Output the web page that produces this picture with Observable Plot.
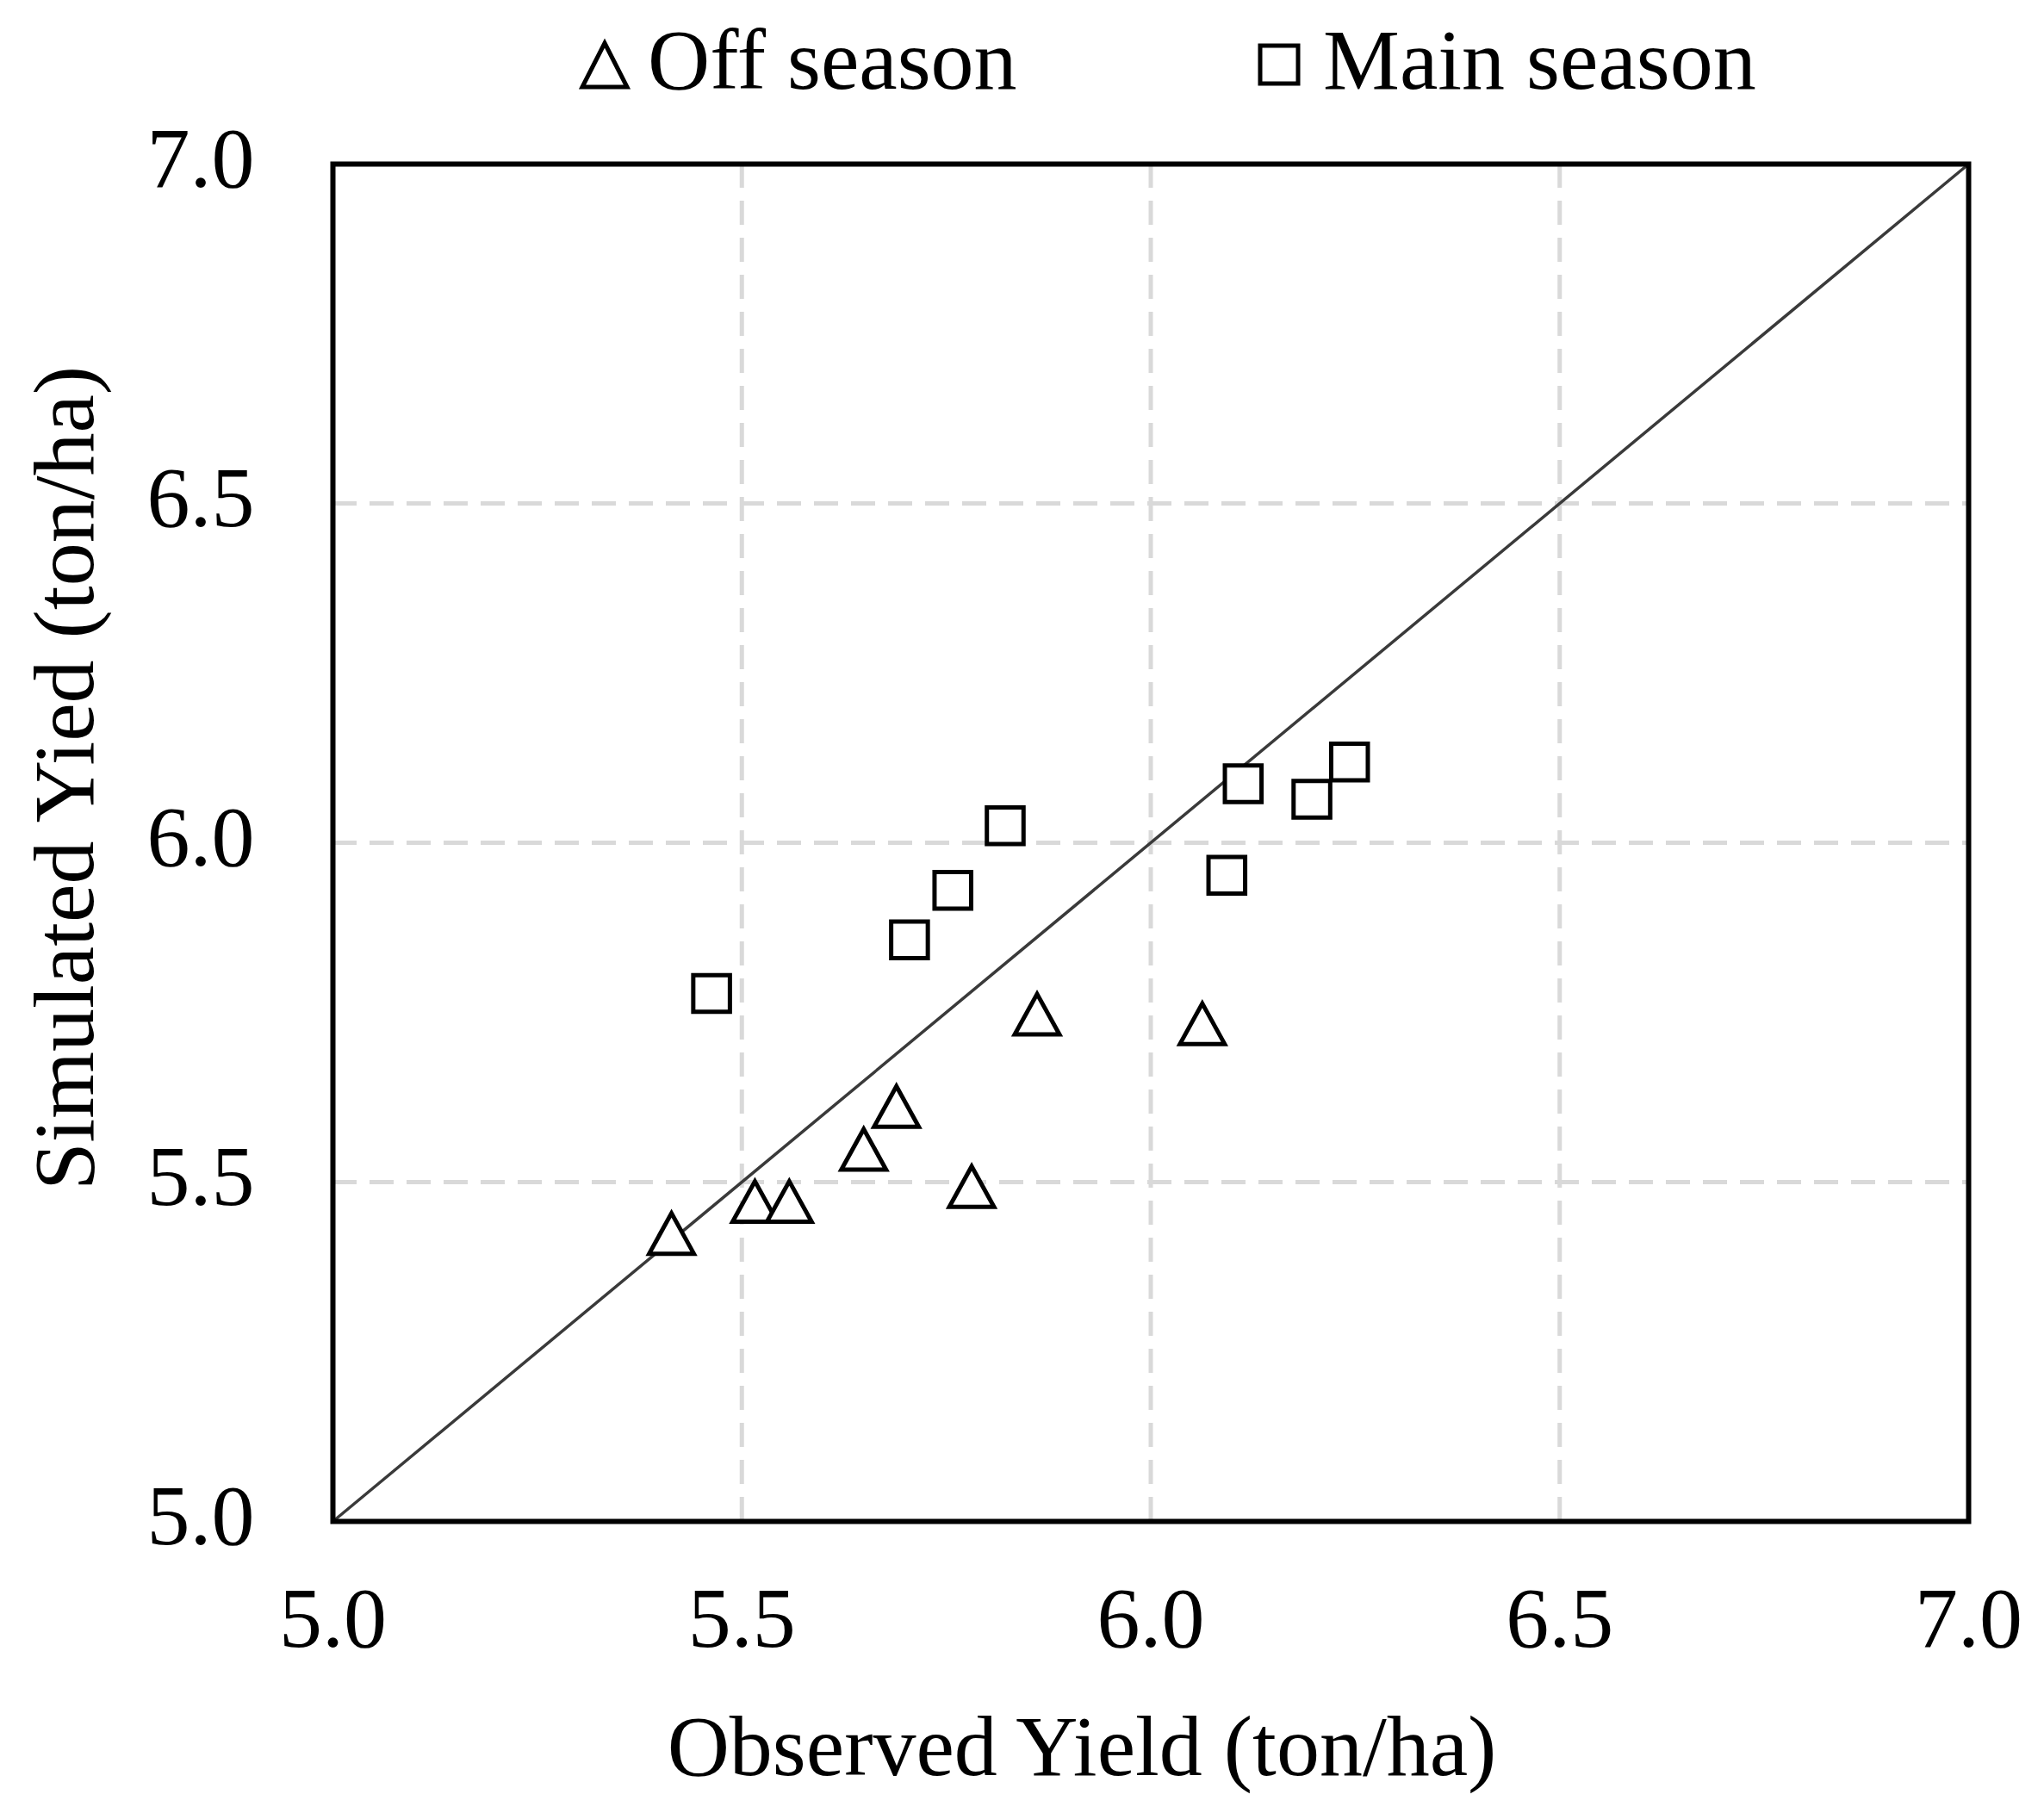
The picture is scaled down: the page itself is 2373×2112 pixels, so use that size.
<!DOCTYPE html>
<html>
<head>
<meta charset="utf-8">
<script src="https://cdn.jsdelivr.net/npm/d3@7"></script>
<script src="https://cdn.jsdelivr.net/npm/@observablehq/plot@0.6"></script>
<style>
  html, body { margin: 0; padding: 0; background: #fff; }
  #wrap { width: 2373px; font-family: "Liberation Serif", "Times New Roman", serif; }
  #legend { display: block; }
</style>
</head>
<body>
<div id="wrap"></div>
<script>
// ---- data ----
const seriesNames = ["Off season", "Main season"];
const offObserved  = [5.414, 5.516, 5.558, 5.649, 5.689, 5.781, 5.861, 6.063];
const offSimulated = [5.425, 5.472, 5.472, 5.549, 5.612, 5.494, 5.748, 5.734];
const mainObserved  = [5.463, 5.705, 5.758, 5.822, 6.093, 6.113, 6.197, 6.243];
const mainSimulated = [5.778, 5.857, 5.930, 6.025, 5.952, 6.087, 6.064, 6.119];
const axisTicks = [5.0, 5.5, 6.0, 6.5, 7.0];
const gridTicks = [5.5, 6.0, 6.5];
const oneToOne = [5.0, 7.0];
const xTitle = "Observed Yield (ton/ha)";
const yTitle = "Simulated Yied (ton/ha)";

const offData = offObserved.map((x, i) => ({x, y: offSimulated[i]}));
const mainData = mainObserved.map((x, i) => ({x, y: mainSimulated[i]}));

// custom triangle symbol (slightly tall, like the reference)
const triSym = {
  draw(context, size) {
    const s = Math.sqrt(size);
    context.moveTo(0, -0.54 * s);
    context.lineTo(0.61 * s, 0.565 * s);
    context.lineTo(-0.61 * s, 0.565 * s);
    context.closePath();
  }
};

const wrap = document.getElementById("wrap");

// ---- legend (above the chart) ----
const ns = "http://www.w3.org/2000/svg";
const leg = document.createElementNS(ns, "svg");
leg.setAttribute("id", "legend");
leg.setAttribute("width", 2373);
leg.setAttribute("height", 125);
leg.innerHTML = `
  <path d="M702,50 L728,101 L676,101 Z" fill="white" stroke="black" stroke-width="5" stroke-linejoin="miter"/>
  <text x="752" y="103" font-family="Liberation Serif" font-size="100" fill="black">${seriesNames[0]}</text>
  <rect x="1463" y="53" width="44" height="44" fill="white" stroke="black" stroke-width="5"/>
  <text x="1536" y="103" font-family="Liberation Serif" font-size="100" fill="black">${seriesNames[1]}</text>
`;
wrap.appendChild(leg);

// ---- chart ----
const chart = Plot.plot({
  width: 2373,
  height: 1987,
  marginLeft: 386,
  marginRight: 88,
  marginTop: 65,
  marginBottom: 346,
  style: {fontFamily: "Liberation Serif", fontSize: "100px", color: "black", background: "white"},
  x: {domain: [5, 7]},
  y: {domain: [5, 7]},
  marks: [
    Plot.gridX(gridTicks, {stroke: "#d9d9d9", strokeOpacity: 1, strokeWidth: 5, strokeDasharray: "28,15"}),
    Plot.gridY(gridTicks, {stroke: "#d9d9d9", strokeOpacity: 1, strokeWidth: 5, strokeDasharray: "28,15"}),
    Plot.line(oneToOne, {x: d => d, y: d => d, stroke: "#3a3a3a", strokeWidth: 3.5}),
    Plot.frame({stroke: "black", strokeWidth: 6}),
    Plot.axisX(axisTicks, {tickSize: 0, tickPadding: 74, tickFormat: d3.format(".1f"), fontSize: 100, label: null, fill: "black"}),
    Plot.axisY(axisTicks, {tickSize: 0, tickPadding: 91, tickFormat: d3.format(".1f"), fontSize: 100, label: null, fill: "black", dy: -6}),
    Plot.dot(offData, {x: "x", y: "y", symbol: triSym, r: 24, fill: "white", stroke: "black", strokeWidth: 5}),
    Plot.dot(mainData, {x: "x", y: "y", symbol: "square", r: 24, fill: "white", stroke: "black", strokeWidth: 5}),
    Plot.text([xTitle], {text: d => d, frameAnchor: "bottom", textAnchor: "middle", lineAnchor: "middle", dx: -80, dy: 262, fontSize: 100, fill: "black"}),
    Plot.text([yTitle], {text: d => d, frameAnchor: "left", textAnchor: "middle", lineAnchor: "middle", rotate: -90, dx: -311, dy: -75, fontSize: 100, fill: "black"})
  ]
});
chart.style.display = "block";
wrap.appendChild(chart);
</script>
</body>
</html>
